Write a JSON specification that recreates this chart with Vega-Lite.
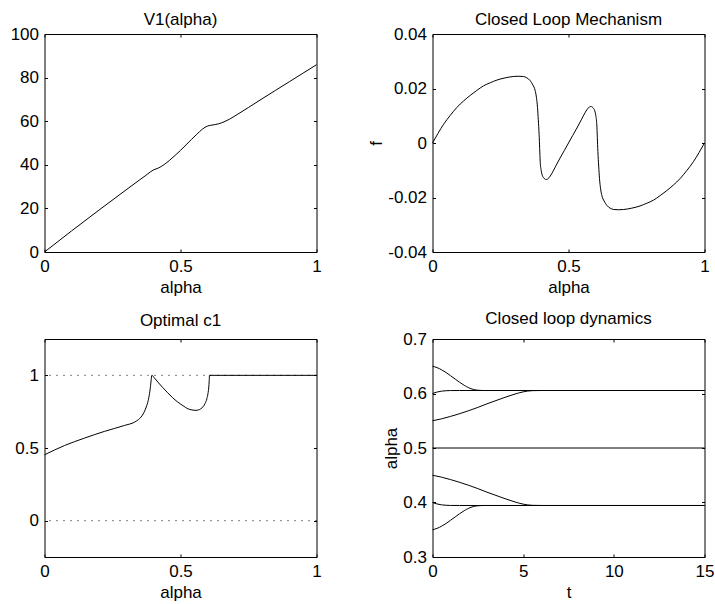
{
  "$schema": "https://vega.github.io/schema/vega-lite/v6.json",
  "background": "white",
  "padding": {"left": 9.5, "top": 10, "right": 5, "bottom": 5},
  "datasets": {
    "v1": [
      {"a": 0, "v": 0}, {"a": 0.1, "v": 9.7}, {"a": 0.2, "v": 19.2}, {"a": 0.3, "v": 28.5},
      {"a": 0.35, "v": 33.1}, {"a": 0.37, "v": 34.9}, {"a": 0.39, "v": 36.8}, {"a": 0.4, "v": 37.6},
      {"a": 0.41, "v": 38.1}, {"a": 0.42, "v": 38.6}, {"a": 0.44, "v": 40.1}, {"a": 0.46, "v": 42.1},
      {"a": 0.48, "v": 44.3}, {"a": 0.5, "v": 46.6}, {"a": 0.52, "v": 49.1}, {"a": 0.54, "v": 51.6},
      {"a": 0.56, "v": 54.0}, {"a": 0.58, "v": 56.3}, {"a": 0.59, "v": 57.2}, {"a": 0.6, "v": 57.8},
      {"a": 0.61, "v": 58.1}, {"a": 0.62, "v": 58.3}, {"a": 0.64, "v": 58.8}, {"a": 0.66, "v": 59.7},
      {"a": 0.68, "v": 60.9}, {"a": 0.7, "v": 62.4}, {"a": 0.75, "v": 66.3}, {"a": 0.8, "v": 70.3},
      {"a": 0.85, "v": 74.2}, {"a": 0.9, "v": 78.1}, {"a": 0.95, "v": 82.0}, {"a": 1, "v": 85.9}
    ],
    "f": [
      {"a": 0, "f": 0}, {"a": 0.02, "f": 0.0035}, {"a": 0.041, "f": 0.0069}, {"a": 0.065, "f": 0.0101},
      {"a": 0.09, "f": 0.0131}, {"a": 0.114, "f": 0.0154}, {"a": 0.139, "f": 0.0175}, {"a": 0.163, "f": 0.0193},
      {"a": 0.188, "f": 0.021}, {"a": 0.212, "f": 0.0221}, {"a": 0.237, "f": 0.0231}, {"a": 0.267, "f": 0.0239},
      {"a": 0.297, "f": 0.0244}, {"a": 0.315, "f": 0.0245}, {"a": 0.334, "f": 0.0244}, {"a": 0.347, "f": 0.0239},
      {"a": 0.359, "f": 0.0229}, {"a": 0.369, "f": 0.0213}, {"a": 0.377, "f": 0.0194}, {"a": 0.382, "f": 0.0168},
      {"a": 0.386, "f": 0.0131}, {"a": 0.389, "f": 0.0085}, {"a": 0.392, "f": 0.0031}, {"a": 0.394, "f": -0.002},
      {"a": 0.396, "f": -0.0069}, {"a": 0.399, "f": -0.0097}, {"a": 0.402, "f": -0.0113}, {"a": 0.408, "f": -0.0127},
      {"a": 0.418, "f": -0.0134}, {"a": 0.428, "f": -0.0128}, {"a": 0.438, "f": -0.0113}, {"a": 0.453, "f": -0.0085},
      {"a": 0.469, "f": -0.0055}, {"a": 0.485, "f": -0.0027}, {"a": 0.5, "f": 0},
      {"a": 0.515, "f": 0.0027}, {"a": 0.531, "f": 0.0055}, {"a": 0.547, "f": 0.0085}, {"a": 0.562, "f": 0.0113},
      {"a": 0.572, "f": 0.0128}, {"a": 0.582, "f": 0.0134}, {"a": 0.592, "f": 0.0127}, {"a": 0.598, "f": 0.0113},
      {"a": 0.601, "f": 0.0097}, {"a": 0.604, "f": 0.0069}, {"a": 0.606, "f": 0.002}, {"a": 0.608, "f": -0.0031},
      {"a": 0.611, "f": -0.0085}, {"a": 0.614, "f": -0.0131}, {"a": 0.618, "f": -0.0168}, {"a": 0.623, "f": -0.0194},
      {"a": 0.631, "f": -0.0213}, {"a": 0.641, "f": -0.0229}, {"a": 0.653, "f": -0.0239}, {"a": 0.666, "f": -0.0244},
      {"a": 0.685, "f": -0.0245}, {"a": 0.703, "f": -0.0244}, {"a": 0.733, "f": -0.0239}, {"a": 0.763, "f": -0.0231},
      {"a": 0.788, "f": -0.0221}, {"a": 0.812, "f": -0.021}, {"a": 0.837, "f": -0.0193}, {"a": 0.861, "f": -0.0175},
      {"a": 0.886, "f": -0.0154}, {"a": 0.91, "f": -0.0131}, {"a": 0.935, "f": -0.0101}, {"a": 0.959, "f": -0.0069},
      {"a": 0.98, "f": -0.0035}, {"a": 1, "f": 0}
    ],
    "c1": [
      {"a": 0, "c": 0.453}, {"a": 0.0735, "c": 0.517}, {"a": 0.147, "c": 0.568}, {"a": 0.22, "c": 0.614},
      {"a": 0.294, "c": 0.655}, {"a": 0.331, "c": 0.678}, {"a": 0.345, "c": 0.695}, {"a": 0.355, "c": 0.713},
      {"a": 0.365, "c": 0.742}, {"a": 0.374, "c": 0.782}, {"a": 0.381, "c": 0.825}, {"a": 0.386, "c": 0.874},
      {"a": 0.39, "c": 0.93}, {"a": 0.392, "c": 0.966}, {"a": 0.3946, "c": 1.0}, {"a": 0.405, "c": 0.98},
      {"a": 0.4167, "c": 0.954}, {"a": 0.435, "c": 0.915}, {"a": 0.453, "c": 0.88}, {"a": 0.47, "c": 0.848},
      {"a": 0.49, "c": 0.816}, {"a": 0.51, "c": 0.79}, {"a": 0.527, "c": 0.77}, {"a": 0.542, "c": 0.762},
      {"a": 0.557, "c": 0.759}, {"a": 0.57, "c": 0.765}, {"a": 0.582, "c": 0.782}, {"a": 0.59, "c": 0.805},
      {"a": 0.597, "c": 0.839}, {"a": 0.601, "c": 0.875}, {"a": 0.604, "c": 0.92}, {"a": 0.6055, "c": 0.96},
      {"a": 0.6066, "c": 1.0}, {"a": 1, "c": 1.0}
    ],
    "refs": [{"c": 0}, {"c": 1}],
    "dyn": [
      {"id": "A", "t": 0, "y": 0.65}, {"id": "A", "t": 0.25, "y": 0.6475}, {"id": "A", "t": 0.5, "y": 0.6435},
      {"id": "A", "t": 0.75, "y": 0.6385}, {"id": "A", "t": 1, "y": 0.6325}, {"id": "A", "t": 1.25, "y": 0.6265},
      {"id": "A", "t": 1.5, "y": 0.6205}, {"id": "A", "t": 1.75, "y": 0.615}, {"id": "A", "t": 2, "y": 0.6105},
      {"id": "A", "t": 2.25, "y": 0.6075}, {"id": "A", "t": 2.5, "y": 0.606}, {"id": "A", "t": 2.75, "y": 0.6055},
      {"id": "A", "t": 15, "y": 0.6055},
      {"id": "B", "t": 0, "y": 0.6}, {"id": "B", "t": 0.25, "y": 0.6027}, {"id": "B", "t": 0.5, "y": 0.6043},
      {"id": "B", "t": 0.75, "y": 0.6051}, {"id": "B", "t": 1, "y": 0.6054}, {"id": "B", "t": 1.5, "y": 0.6055},
      {"id": "B", "t": 15, "y": 0.6055},
      {"id": "C", "t": 0, "y": 0.55}, {"id": "C", "t": 0.5, "y": 0.5535}, {"id": "C", "t": 1, "y": 0.558},
      {"id": "C", "t": 1.5, "y": 0.563}, {"id": "C", "t": 2, "y": 0.5685}, {"id": "C", "t": 2.5, "y": 0.5745},
      {"id": "C", "t": 3, "y": 0.581}, {"id": "C", "t": 3.5, "y": 0.587}, {"id": "C", "t": 4, "y": 0.593},
      {"id": "C", "t": 4.5, "y": 0.5985}, {"id": "C", "t": 5, "y": 0.603}, {"id": "C", "t": 5.5, "y": 0.6052},
      {"id": "C", "t": 6, "y": 0.6055}, {"id": "C", "t": 15, "y": 0.6055},
      {"id": "D", "t": 0, "y": 0.5}, {"id": "D", "t": 15, "y": 0.5},
      {"id": "E", "t": 0, "y": 0.45}, {"id": "E", "t": 0.5, "y": 0.4465}, {"id": "E", "t": 1, "y": 0.442},
      {"id": "E", "t": 1.5, "y": 0.437}, {"id": "E", "t": 2, "y": 0.4315}, {"id": "E", "t": 2.5, "y": 0.4255},
      {"id": "E", "t": 3, "y": 0.419}, {"id": "E", "t": 3.5, "y": 0.413}, {"id": "E", "t": 4, "y": 0.407},
      {"id": "E", "t": 4.5, "y": 0.4015}, {"id": "E", "t": 5, "y": 0.397}, {"id": "E", "t": 5.5, "y": 0.3948},
      {"id": "E", "t": 6, "y": 0.3945}, {"id": "E", "t": 15, "y": 0.3945},
      {"id": "F", "t": 0, "y": 0.4}, {"id": "F", "t": 0.25, "y": 0.3973}, {"id": "F", "t": 0.5, "y": 0.3957},
      {"id": "F", "t": 0.75, "y": 0.3949}, {"id": "F", "t": 1, "y": 0.3946}, {"id": "F", "t": 1.5, "y": 0.3945},
      {"id": "F", "t": 15, "y": 0.3945},
      {"id": "G", "t": 0, "y": 0.35}, {"id": "G", "t": 0.25, "y": 0.3525}, {"id": "G", "t": 0.5, "y": 0.3565},
      {"id": "G", "t": 0.75, "y": 0.3615}, {"id": "G", "t": 1, "y": 0.3675}, {"id": "G", "t": 1.25, "y": 0.3735},
      {"id": "G", "t": 1.5, "y": 0.3795}, {"id": "G", "t": 1.75, "y": 0.385}, {"id": "G", "t": 2, "y": 0.3895},
      {"id": "G", "t": 2.25, "y": 0.3925}, {"id": "G", "t": 2.5, "y": 0.394}, {"id": "G", "t": 2.75, "y": 0.3945},
      {"id": "G", "t": 15, "y": 0.3945}
    ]
  },
  "columns": 2,
  "spacing": {"row": 87, "column": 116},
  "bounds": "flush",
  "concat": [
    {
      "width": 272, "height": 218,
      "title": {"text": "V1(alpha)", "frame": "group", "offset": -4},
      "data": {"name": "v1"},
      "layer": [
        {
          "mark": {"type": "line", "color": "black", "strokeWidth": 1, "interpolate": "monotone"},
          "encoding": {
            "x": {"field": "a", "type": "quantitative", "scale": {"domain": [0, 1], "nice": false, "zero": false}, "axis": {"values": [0, 0.5, 1], "title": "alpha"}},
            "y": {"field": "v", "type": "quantitative", "scale": {"domain": [0, 100], "nice": false}, "axis": {"values": [0, 20, 40, 60, 80, 100], "title": null}}
          }
        },
        {
          "mark": {"type": "line", "opacity": 0},
          "encoding": {
            "x": {"field": "a", "type": "quantitative", "axis": {"orient": "top", "values": [0, 0.5, 1], "labels": false, "title": null}},
            "y": {"field": "v", "type": "quantitative", "axis": {"orient": "right", "values": [0, 20, 40, 60, 80, 100], "labels": false, "title": null}}
          }
        }
      ],
      "resolve": {"axis": {"x": "independent", "y": "independent"}}
    },
    {
      "width": 272, "height": 218,
      "title": {"text": "Closed Loop Mechanism", "frame": "group", "offset": -4},
      "data": {"name": "f"},
      "layer": [
        {
          "mark": {"type": "line", "color": "black", "strokeWidth": 1, "interpolate": "monotone"},
          "encoding": {
            "x": {"field": "a", "type": "quantitative", "scale": {"domain": [0, 1], "nice": false, "zero": false}, "axis": {"values": [0, 0.5, 1], "title": "alpha"}},
            "y": {"field": "f", "type": "quantitative", "scale": {"domain": [-0.04, 0.04], "nice": false}, "axis": {"values": [-0.04, -0.02, 0, 0.02, 0.04], "title": "f"}}
          }
        },
        {
          "mark": {"type": "line", "opacity": 0},
          "encoding": {
            "x": {"field": "a", "type": "quantitative", "axis": {"orient": "top", "values": [0, 0.5, 1], "labels": false, "title": null}},
            "y": {"field": "f", "type": "quantitative", "axis": {"orient": "right", "values": [-0.04, -0.02, 0, 0.02, 0.04], "labels": false, "title": null}}
          }
        }
      ],
      "resolve": {"axis": {"x": "independent", "y": "independent"}}
    },
    {
      "width": 272, "height": 218,
      "title": {"text": "Optimal c1", "frame": "group", "offset": 9},
      "layer": [
        {
          "data": {"name": "c1"},
          "mark": {"type": "line", "color": "black", "strokeWidth": 1, "interpolate": "monotone"},
          "encoding": {
            "x": {"field": "a", "type": "quantitative", "scale": {"domain": [0, 1], "nice": false, "zero": false}, "axis": {"values": [0, 0.5, 1], "title": "alpha"}},
            "y": {"field": "c", "type": "quantitative", "scale": {"domain": [-0.25, 1.25], "nice": false}, "axis": {"values": [0, 0.5, 1], "title": null}}
          }
        },
        {
          "data": {"name": "refs"},
          "mark": {"type": "rule", "color": "black", "strokeWidth": 1, "strokeDash": [1, 6]},
          "encoding": {
            "y": {"field": "c", "type": "quantitative", "axis": {"orient": "right", "values": [0, 0.5, 1], "labels": false, "title": null}}
          }
        },
        {
          "data": {"name": "c1"},
          "mark": {"type": "line", "opacity": 0},
          "encoding": {
            "x": {"field": "a", "type": "quantitative", "axis": {"orient": "top", "values": [0, 0.5, 1], "labels": false, "title": null}},
            "y": {"field": "c", "type": "quantitative", "axis": null}
          }
        }
      ],
      "resolve": {"axis": {"x": "independent", "y": "independent"}}
    },
    {
      "width": 272, "height": 218,
      "title": {"text": "Closed loop dynamics", "frame": "group", "offset": 2},
      "data": {"name": "dyn"},
      "layer": [
        {
          "mark": {"type": "line", "color": "black", "strokeWidth": 1, "interpolate": "monotone"},
          "encoding": {
            "detail": {"field": "id"},
            "x": {"field": "t", "type": "quantitative", "scale": {"domain": [0, 15], "nice": false, "zero": false}, "axis": {"values": [0, 5, 10, 15], "title": "t"}},
            "y": {"field": "y", "type": "quantitative", "scale": {"domain": [0.3, 0.7], "nice": false, "zero": false}, "axis": {"values": [0.3, 0.4, 0.5, 0.6, 0.7], "title": "alpha"}}
          }
        },
        {
          "mark": {"type": "line", "opacity": 0},
          "encoding": {
            "detail": {"field": "id"},
            "x": {"field": "t", "type": "quantitative", "axis": {"orient": "top", "values": [0, 5, 10, 15], "labels": false, "title": null}},
            "y": {"field": "y", "type": "quantitative", "axis": {"orient": "right", "values": [0.3, 0.4, 0.5, 0.6, 0.7], "labels": false, "title": null}}
          }
        }
      ],
      "resolve": {"axis": {"x": "independent", "y": "independent"}}
    }
  ],
  "config": {
    "view": {"stroke": "black", "strokeWidth": 1},
    "axis": {
      "domain": false, "grid": false, "ticks": true, "tickSize": -3, "tickColor": "black", "tickWidth": 1,
      "labelFont": "Liberation Sans", "labelFontSize": 17, "labelColor": "black", "labelPadding": 9,
      "labelFlush": false, "labelOverlap": false,
      "labelExpr": "datum.value < 0 ? '-' + format(-datum.value, '~g') : format(datum.value, '~g')",
      "titleFont": "Liberation Sans", "titleFontSize": 17, "titleFontWeight": "normal", "titleColor": "black", "titlePadding": 2
    },
    "axisX": {"labelPadding": 9, "titlePadding": 5},
    "title": {"font": "Liberation Sans", "fontSize": 17, "fontWeight": "normal", "color": "black", "frame": "group", "baseline": "alphabetic", "offset": 11}
  }
}
